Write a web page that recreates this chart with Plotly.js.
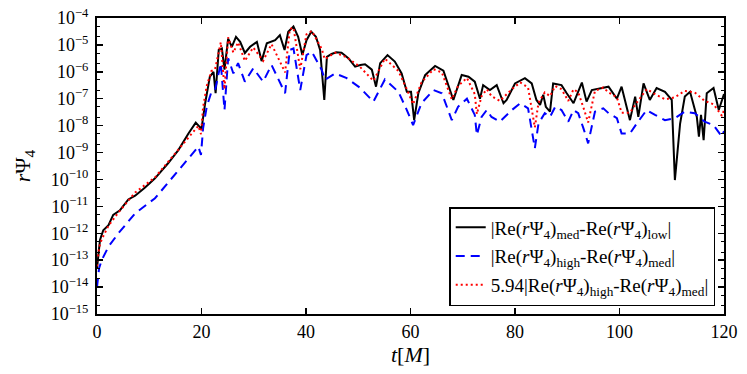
<!DOCTYPE html>
<html>
<head>
<meta charset="utf-8">
<script src="https://cdn.plot.ly/plotly-3.0.1.min.js"></script>
<style>
  body { margin: 0; background: white; }
  #plot { width: 747px; height: 374px; }
</style>
</head>
<body>
<div id="plot"></div>
<script>
// |Re(rPsi4)_med - Re(rPsi4)_low|
const tLow = [0, 0.25, 0.57, 1.2, 2.2, 3.1, 4.4, 6.0, 7.3, 9.2, 11.1, 13.6, 15.6, 17.5, 18.9, 20.0,
  20.7, 21.6, 22.3, 22.7, 23.3, 23.9, 24.4, 25.1, 25.8, 26.6, 27.4, 28.3, 29.3, 30.6, 31.5, 32.5,
  34.1, 35.0, 35.9, 36.6, 37.6, 38.5, 39.3, 40.1, 41.0, 41.9, 42.7, 43.5, 44.0, 44.9, 45.8, 46.8, 48.1,
  49.4, 50.4, 51.3, 52.6, 53.4, 54.2, 55.6, 57.0, 58.3, 59.3, 60.1, 60.7, 61.5, 62.8, 64.7, 66.3, 68.2,
  69.8, 71.1, 72.3, 73.3, 73.9, 75.2, 76.5, 77.8, 78.4, 80.0, 81.9, 83.2, 84.1, 84.8, 85.4, 85.9,
  86.7, 87.3, 88.9, 89.9, 91.2, 92.8, 93.7, 94.7, 96.6, 97.9, 99.5, 100.4, 102.0, 103.0, 103.6,
  104.6, 105.8, 107.1, 108.7, 110.0, 110.6, 111.6, 112.5, 113.5, 114.8, 115.2, 115.6, 116.1,
  116.7, 118.0, 119.0, 120];
const diffLow = [5e-14, 1.8e-13, 5.6e-13, 1.3e-12, 2.0e-12, 4.8e-12, 7.2e-12, 1.8e-11, 2.5e-11,
  5.0e-11, 1.1e-10, 4.0e-10, 1.26e-9, 5.1e-9, 1.3e-8, 7.6e-9,
  6.8e-8, 6.6e-7, 1.0e-6, 1.6e-7, 6.5e-6, 7.4e-6, 1.2e-6, 1.7e-5, 8.5e-6, 2.0e-5, 1.3e-5, 5.0e-6,
  8.5e-6, 1.3e-5, 2.5e-6, 1.15e-5,
  1.5e-5, 2.3e-5, 6.5e-6, 3.1e-5, 4.8e-5, 2.0e-5, 4.2e-6, 1.5e-5, 3.1e-5, 2.0e-5, 6.5e-6, 9e-8,
  3.6e-6, 4.6e-6, 5.3e-6, 5.1e-6, 3.2e-6,
  1.55e-6, 1.8e-6, 1.9e-6, 1.2e-6, 2.8e-7, 2.1e-6, 4.2e-6, 2.4e-6, 8.7e-7, 1.8e-7, 1.8e-7, 1.6e-8, 1.6e-7,
  7.6e-7, 1.66e-6, 1.1e-6, 9e-8,
  7.6e-7, 6.6e-7, 4.3e-7, 1.0e-7, 3.2e-7, 2.1e-7, 3.2e-7, 6.8e-8, 9e-8, 3.7e-7, 5.8e-7, 3.7e-7,
  9e-8, 5.9e-8, 1.4e-7, 5e-8,
  3.3e-8, 3.7e-7, 3.2e-7, 1.6e-7, 6.8e-8, 4e-7, 7.8e-8, 2.1e-7, 2.5e-7, 2.8e-7, 1.0e-7, 2.8e-7,
  1.6e-8, 1.2e-7, 2.1e-8,
  3.7e-7, 9e-8, 2.5e-7, 1.8e-7, 9e-8, 9.5e-11, 1.2e-8, 1.2e-7, 1.8e-7, 2.1e-8, 3.9e-9, 2.5e-8,
  2.9e-9, 1.6e-7, 2.5e-7, 3.8e-8, 1.5e-7];

// |Re(rPsi4)_high - Re(rPsi4)_med|
const tHigh = [0, 0.4, 0.9, 2.2, 4.1, 7.3, 11.1, 14.3, 17.5, 19.4, 19.9, 20.3, 21.0, 21.9, 22.6,
  23.2, 23.7, 24.4, 25.1, 26.1, 27.0, 28.3, 29.9, 31.8, 33.4, 36.0, 36.9, 37.6, 38.9, 40.1, 41.1,
  43.0, 43.6, 45.6, 47.8, 50.3, 52.9, 55.1, 57.7, 59.3, 60.5, 62.1, 64.4, 66.0, 67.9, 69.1, 70.8,
  72.3, 72.7, 73.6, 74.6, 75.5, 77.1, 79.4, 81.0, 82.5, 83.8, 84.5, 85.7, 86.7, 87.7, 88.9, 90.2,
  91.2, 92.1, 93.1, 94.0, 95.3, 96.9, 97.9, 99.5, 100.4, 102.0, 103.3, 105.2, 106.8, 108.7,
  110.6, 112.5, 114.4, 116.3, 118.0, 119.6, 120];
const diffHigh = [1e-14, 5e-14, 1e-13, 3.2e-13, 1e-12, 5.5e-12, 2e-11, 1.1e-10, 6e-10, 1.66e-9,
  8.1e-10, 7.9e-9, 5e-8, 1.8e-7, 2.1e-7,
  8.7e-7, 2.1e-6, 3.8e-8, 3.2e-6, 8.7e-7, 2.1e-6, 4.3e-7, 1.35e-6, 4.3e-7, 1.8e-6, 1.6e-7, 6.5e-6,
  7.4e-6, 2.1e-7, 4.2e-6, 5.6e-6,
  1.2e-6, 5e-7, 8.7e-7, 5.8e-7, 2.6e-7, 7.8e-8, 5.2e-7, 1.8e-7, 3.8e-8, 1.05e-8, 6.8e-8, 2.1e-7,
  1.6e-7, 1.6e-8, 5e-8, 1e-7,
  2.5e-8, 4.5e-9, 2.1e-8, 3.8e-8, 2.1e-8, 1.4e-8, 3.8e-8, 6.8e-8, 4.4e-8, 1.45e-9, 1.2e-8, 2.9e-8,
  2.1e-8, 5e-8, 3.8e-8, 1.4e-8,
  3.8e-8, 2.9e-8, 7.9e-9, 2.2e-9, 3.3e-8, 4.4e-8, 2.9e-8, 1.9e-8, 5.1e-9, 5.1e-9, 1.2e-8, 3.8e-8,
  2.5e-8, 1.6e-8,
  1.9e-8, 3.3e-8, 2.9e-8, 1.4e-8, 1.05e-8, 3.9e-9, 6.3e-9];

// convergence factor from the legend
const factor = 5.94;

const yTickVals = [1e-15, 1e-14, 1e-13, 1e-12, 1e-11, 1e-10, 1e-9, 1e-8, 1e-7, 1e-6, 1e-5, 1e-4];
const yTickText = ['10<sup>−15</sup>', '10<sup>−14</sup>', '10<sup>−13</sup>', '10<sup>−12</sup>',
  '10<sup>−11</sup>', '10<sup>−10</sup>', '10<sup>−9</sup>', '10<sup>−8</sup>', '10<sup>−7</sup>',
  '10<sup>−6</sup>', '10<sup>−5</sup>', '10<sup>−4</sup>'];
const xTickVals = [0, 20, 40, 60, 80, 100, 120];

const traceLow = {
  x: tLow,
  y: diffLow,
  type: 'scatter',
  mode: 'lines',
  legendgroup: 'a',
  name: '|Re(<i>r</i>Ψ<sub>4</sub>)<sub>med</sub>-Re(<i>r</i>Ψ<sub>4</sub>)<sub>low</sub>|',
  line: { color: 'black', width: 2 }
};

const traceHigh = {
  x: tHigh,
  y: diffHigh,
  type: 'scatter',
  mode: 'lines',
  legendgroup: 'b',
  name: '|Re(<i>r</i>Ψ<sub>4</sub>)<sub>high</sub>-Re(<i>r</i>Ψ<sub>4</sub>)<sub>med</sub>|',
  line: { color: 'rgb(0,0,255)', width: 2, dash: '9px,6px' }
};

const traceScaled = {
  x: tHigh,
  y: diffHigh.map(v => v * factor),
  type: 'scatter',
  mode: 'lines',
  legendgroup: 'c',
  name: '5.94|Re(<i>r</i>Ψ<sub>4</sub>)<sub>high</sub>-Re(<i>r</i>Ψ<sub>4</sub>)<sub>med</sub>|',
  line: { color: 'rgb(255,0,0)', width: 2, dash: '2px,3px' }
};

const layout = {
  width: 747,
  height: 374,
  margin: { l: 97, r: 23, t: 18, b: 60 },
  paper_bgcolor: 'white',
  plot_bgcolor: 'white',
  font: { family: 'Liberation Serif, DejaVu Serif, serif', size: 18, color: 'black' },
  showlegend: true,
  legend: {
    x: 0.986, y: 0.027, xanchor: 'right', yanchor: 'bottom',
    bgcolor: 'white', bordercolor: 'black', borderwidth: 1.5,
    tracegroupgap: 1,
    font: { size: 19 }
  },
  xaxis: {
    range: [0, 120],
    tickvals: xTickVals,
    ticks: 'inside', ticklen: 6, tickwidth: 1.5, tickcolor: 'black',
    showline: true, linecolor: 'black', linewidth: 2, mirror: 'ticks',
    showgrid: false, zeroline: false,
    title: { text: '<i>t</i>[<i>M</i>]', standoff: 4 }
  },
  yaxis: {
    type: 'log',
    range: [-15, -4],
    tickvals: yTickVals,
    ticktext: yTickText,
    ticklabelstandoff: 3,
    ticks: 'inside', ticklen: 6, tickwidth: 1.5, tickcolor: 'black',
    minor: { ticks: 'inside', ticklen: 3, tickcolor: 'black', tickwidth: 1, showgrid: false },
    showline: true, linecolor: 'black', linewidth: 2, mirror: 'ticks',
    showgrid: false, zeroline: false,
    title: { text: '<i>r</i>Ψ<sub>4</sub>', standoff: 14 }
  }
};

Plotly.newPlot('plot', [traceLow, traceHigh, traceScaled], layout, { displayModeBar: false, staticPlot: true });
</script>
</body>
</html>
